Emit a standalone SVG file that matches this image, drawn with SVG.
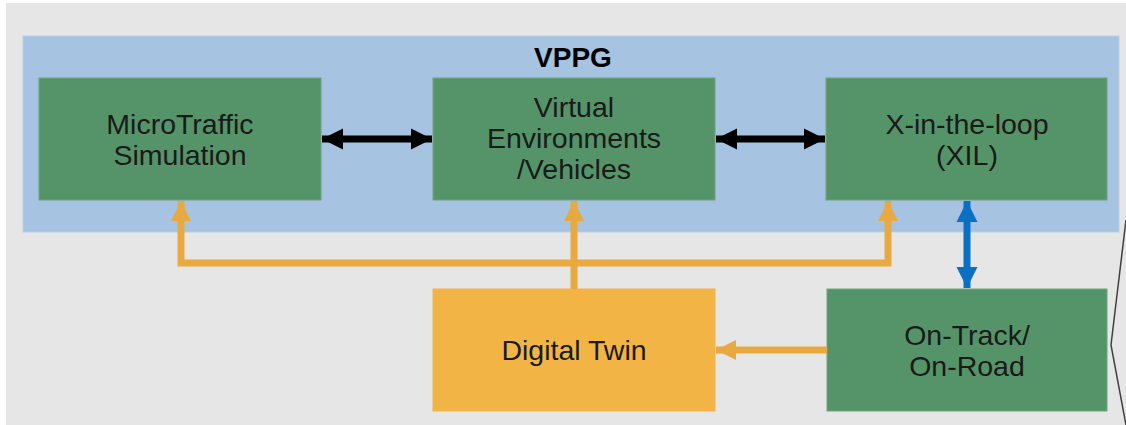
<svg xmlns="http://www.w3.org/2000/svg" width="1126" height="425" viewBox="0 0 1126 425">
<defs>
<style>
.box{fill:#559468;stroke:#6ea37d;stroke-width:1}
.dt{fill:#f3b446;stroke:#f3b446}
.t{font-family:"Liberation Sans",Arial,sans-serif;font-size:28.5px;fill:#1a1a1a;text-anchor:middle}
.title{font-family:"Liberation Sans",Arial,sans-serif;font-size:28px;font-weight:bold;fill:#000;text-anchor:middle}
.blk{stroke:#000;stroke-width:7;fill:none}
.org{stroke:#e8aa40;stroke-width:7;fill:none}
.blu{stroke:#0a70c4;stroke-width:7;fill:none}
</style>
<marker id="ab" viewBox="0 0 10 10" refX="10" refY="5" markerWidth="3" markerHeight="3.3" orient="auto-start-reverse" markerUnits="strokeWidth"><path d="M0,0L10,5L0,10z" fill="#000"/></marker>
<marker id="ao" viewBox="0 0 10 10" refX="10" refY="5" markerWidth="2.9" markerHeight="2.9" orient="auto-start-reverse" markerUnits="strokeWidth"><path d="M0,0L10,5L0,10z" fill="#e8aa40"/></marker>
<marker id="au" viewBox="0 0 10 10" refX="10" refY="5" markerWidth="3" markerHeight="3.3" orient="auto-start-reverse" markerUnits="strokeWidth"><path d="M0,0L10,5L0,10z" fill="#0a70c4"/></marker>
</defs>
<rect x="0" y="0" width="1126" height="425" fill="#ffffff"/>
<rect x="6" y="3" width="1120" height="422" fill="#e6e6e6"/>
<g id="vppg">
<rect x="23" y="36" width="1096" height="196" fill="#a6c3e1" stroke="#b8cfe6"/>
<text class="title" x="573" y="67">VPPG</text>
</g>
<g id="microtraffic">
<rect class="box" x="39" y="78" width="282" height="122"/>
<text class="t" x="180" y="134">MicroTraffic</text>
<text class="t" x="180" y="165">Simulation</text>
</g>
<g id="virtual">
<rect class="box" x="433" y="78" width="282" height="122"/>
<text class="t" x="574" y="117">Virtual</text>
<text class="t" x="574" y="148">Environments</text>
<text class="t" x="574" y="179">/Vehicles</text>
</g>
<g id="xil">
<rect class="box" x="826" y="78" width="281" height="122"/>
<text class="t" x="967" y="134">X-in-the-loop</text>
<text class="t" x="967" y="165">(XIL)</text>
</g>
<g id="digitaltwin">
<rect class="dt" x="433" y="289" width="282" height="122"/>
<text class="t" x="574" y="360">Digital Twin</text>
</g>
<g id="ontrack">
<rect class="box" x="827" y="289" width="280" height="122"/>
<text class="t" x="967" y="345">On-Track/</text>
<text class="t" x="967" y="376">On-Road</text>
</g>
<g id="connectors">
<line class="blk" x1="322" y1="139" x2="432" y2="139" marker-start="url(#ab)" marker-end="url(#ab)"/>
<line class="blk" x1="716" y1="139" x2="825" y2="139" marker-start="url(#ab)" marker-end="url(#ab)"/>
<line class="blu" x1="967" y1="201" x2="967" y2="288" marker-start="url(#au)" marker-end="url(#au)"/>
<line class="org" x1="574" y1="289" x2="574" y2="201" marker-end="url(#ao)"/>
<polyline class="org" points="574,263 888,263 888,201" marker-end="url(#ao)"/>
<polyline class="org" points="574,263 181,263 181,201" marker-end="url(#ao)"/>
<line class="org" x1="827" y1="350" x2="716" y2="350" marker-end="url(#ao)"/>
<polyline points="1126,220 1111,345 1126,425" fill="none" stroke="#404040" stroke-width="1.5"/>
</g>
</svg>
